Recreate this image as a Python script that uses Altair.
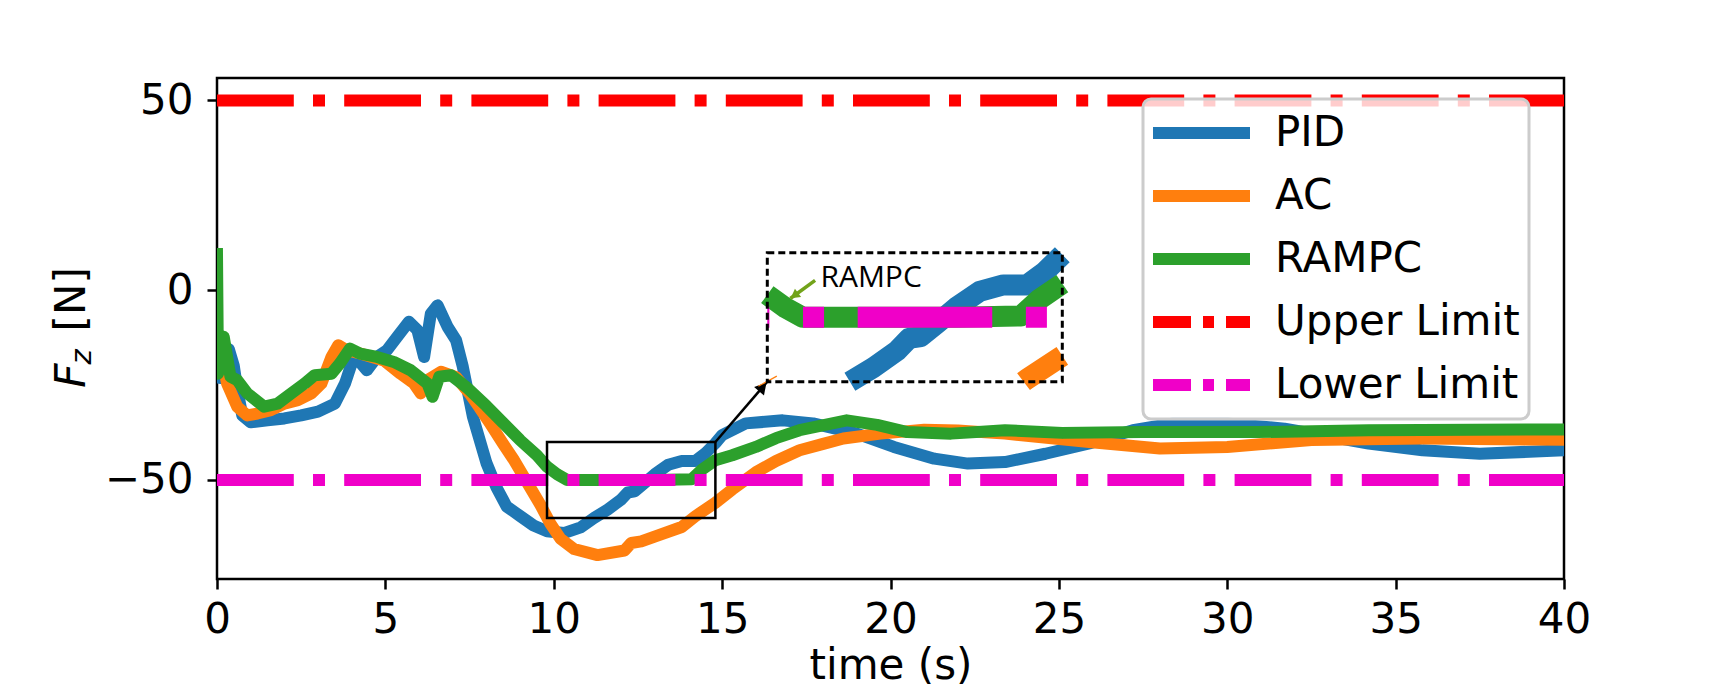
import math
import altair as alt
import pandas as pd

# ---------------- data ----------------
series_names = ["PID", "AC", "RAMPC", "Upper Limit", "Lower Limit"]
series_colors = ["#1f77b4", "#ff7f0e", "#2ca02c", "#ff0000", "#f000c8"]
legend_dashes = [[1, 0], [1, 0], [1, 0], [38, 12, 11, 12], [38, 12, 11, 12]]

pid_t = [0.0, 0.08, 0.2, 0.35, 0.5, 0.6, 0.75, 1.0, 1.5, 2.0, 2.5, 3.0, 3.5, 3.8, 4.0, 4.2,
         4.45, 4.75, 5.05, 5.35, 5.7, 5.95, 6.15, 6.35, 6.55, 6.85, 7.1, 7.3, 7.6, 8.0, 8.3,
         8.6, 9.0, 9.4, 9.8, 10.3, 10.8, 11.2, 11.6, 12.0, 12.2, 12.4, 12.7, 13.0, 13.4, 13.8,
         14.2, 14.5, 14.8, 15.0, 15.7, 16.8, 17.7, 19.0, 20.1, 21.3, 22.3, 23.4, 24.6, 25.9,
         27.2, 28.4, 30.0, 31.7, 34.2, 35.8, 37.5, 40.0]
pid_f = [-23, -18, -15, -15.5, -20, -26, -33, -34.8, -34.3, -33.8, -33, -32, -29.9, -24.6,
         -19.3, -18.5, -21.1, -17.6, -15.8, -12.3, -8.3, -10.5, -17.6, -6.2, -4, -9.7, -13.2,
         -20.2, -33.4, -45.5, -52, -57, -59.5, -62, -63.5, -64, -62.5, -60, -57.8, -55.2,
         -53.3, -53.0, -50.8, -48.5, -46, -45, -45, -43, -40.3, -38.2, -35.1, -34.3, -35.1,
         -37.8, -41.3, -44.4, -45.7, -45.3, -43.1, -40.4, -36.9, -35.1, -35.1, -36.5, -40.4,
         -42.2, -43.1, -42.2]

ac_t = [0.0, 0.15, 0.3, 0.6, 0.9, 1.2, 1.6, 2.0, 2.4, 2.8, 3.1, 3.4, 3.6, 3.85, 4.25, 4.95,
        5.45, 5.85, 6.05, 6.25, 6.65, 7.1, 7.5, 7.8, 8.1, 8.5, 8.8, 9.2, 9.6, 9.9, 10.2, 10.6,
        11.3, 12.1, 12.3, 12.6, 13.1, 13.8, 14.2, 14.8, 15.3, 16.0, 16.6, 17.3, 18.0, 18.6,
        19.7, 21.0, 22.0, 23.4, 25.9, 28.0, 30.0, 32.5, 35.8, 40.0]
ac_f = [-14, -18, -24.6, -30.7, -33, -32.5, -31.6, -29.9, -29, -27.2, -24.6, -17.6, -14.5,
        -15.8, -16.7, -18.5, -22, -24.6, -27.2, -23.7, -21.5, -22.9, -27.2, -31, -35, -40.5,
        -44.5, -50.5, -56.5, -61.5, -65.5, -68.2, -69.8, -68.6, -66.6, -66.2, -64.6, -62.4,
        -59.6, -56, -52.5, -48, -45, -42.2, -40.5, -39.1, -37.8, -36.8, -37, -37.8, -40, -41.7,
        -41.3, -39.5, -39.1, -39.4]

rampc_t = [0.0, 0.03, 0.1, 0.2, 0.4, 0.6, 0.9, 1.4, 1.8, 2.2, 2.6, 2.9, 3.4, 3.65, 3.95, 4.25,
           4.75, 5.25, 5.75, 6.25, 6.4, 6.6, 6.95, 7.4, 8.0, 8.5, 9.0, 9.5, 9.8, 10.1, 10.4,
           11.0, 12.0, 13.0, 14.1, 14.4, 14.8, 15.3, 16.0, 16.6, 17.3, 18.7, 19.6, 20.5, 21.8,
           23.4, 25.1, 27.5, 30.9, 34.2, 40.0]
rampc_f = [9.5, -22, -14, -12.3, -22.8, -23.7, -27.2, -30.7, -29.9, -27.2, -24.6, -22.4, -22,
           -19.3, -15.4, -16.7, -17.6, -18.9, -21.1, -24.6, -28.1, -22.8, -22.4, -25.5, -30.5,
           -35, -39.5, -43.5, -46.5, -48.5, -50, -50, -50, -50, -49.8, -47.3, -44.8, -43.5,
           -41.3, -39, -36.9, -34.3, -35.5, -37.4, -37.8, -36.9, -37.6, -37.4, -37.4, -36.9,
           -36.7]

limit_t = [0, 40]
upper_f = 50
lower_f = -50

x_ticks = [0, 5, 10, 15, 20, 25, 30, 35, 40]
y_ticks = [-50, 0, 50]
x_domain = [0, 40]
y_domain = [-76.1, 55.9]

zoom_t = [9.8, 14.8]       # zoomed region (data units)
zoom_f = [-60, -40]
note_text = "RAMPC"
note_pos = [10.70, -45.3]           # text anchor inside inset (inset data units)
note_arrow = [10.61, -44.3, 10.19, -47.1]

# ---------------- layout / style ----------------
W, H = 1347, 501
FONT = "DejaVu Sans"
FS = 42
LW = 12
DASHDOT = [6.4 * LW, 1.6 * LW, 1.0 * LW, 1.6 * LW]
inset_px = [550.3, 845.3, 174.7, 303.7]   # left, right, top, bottom (pixels in plot)

main_ppu = W / (x_domain[1] - x_domain[0])
inset_ppu = (inset_px[1] - inset_px[0]) / (zoom_t[1] - zoom_t[0])
ratio = inset_ppu / main_ppu
ILW = LW * ratio
inset_dash = [d * ratio for d in DASHDOT]
inset_dash_offset = ((zoom_t[0] - limit_t[0]) * inset_ppu) % sum(inset_dash)


def long_df(name, ts, fs):
    return pd.DataFrame({"series": name, "t": ts, "f": fs, "o": range(len(ts))})


def clip_poly(ts, fs, x0, x1, y0, y1):
    pieces, cur = [], []
    for i in range(len(ts) - 1):
        ax, ay, bx, by = ts[i], fs[i], ts[i + 1], fs[i + 1]
        dx, dy = bx - ax, by - ay
        u0, u1, ok = 0.0, 1.0, True
        for p, q in ((-dx, ax - x0), (dx, x1 - ax), (-dy, ay - y0), (dy, y1 - ay)):
            if p == 0:
                if q < 0:
                    ok = False
                    break
            else:
                r = q / p
                if p < 0:
                    if r > u1:
                        ok = False
                        break
                    u0 = max(u0, r)
                else:
                    if r < u0:
                        ok = False
                        break
                    u1 = min(u1, r)
        if not ok:
            if cur:
                pieces.append(cur)
                cur = []
            continue
        p0 = (ax + u0 * dx, ay + u0 * dy)
        p1 = (ax + u1 * dx, ay + u1 * dy)
        if not cur or u0 > 0:
            if cur:
                pieces.append(cur)
            cur = [p0, p1]
        else:
            cur.append(p1)
        if u1 < 1:
            pieces.append(cur)
            cur = []
    if cur:
        pieces.append(cur)
    return pieces


def clipped_df(name, ts, fs):
    rows = []
    for k, piece in enumerate(clip_poly(ts, fs, zoom_t[0], zoom_t[1], zoom_f[0], zoom_f[1])):
        for j, (a, b) in enumerate(piece):
            rows.append({"series": name, "seg": k, "t": a, "f": b, "o": j})
    return pd.DataFrame(rows)


color_scale = alt.Scale(domain=series_names, range=series_colors)
dash_scale = alt.Scale(domain=series_names, range=legend_dashes)
legend = alt.Legend(
    title=None, orient="none", legendX=926, legendY=21,
    symbolType="stroke", symbolSize=97 * 97, symbolStrokeWidth=LW, symbolOpacity=1,
    symbolOffset=-5, clipHeight=50,
    labelFont=FONT, labelFontSize=FS, labelColor="black", labelLimit=500,
    labelOffset=19, rowPadding=13, padding=9,
    fillColor="rgba(255,255,255,0.8)", strokeColor="#cccccc", cornerRadius=8,
)

X = alt.X("t:Q", scale=alt.Scale(domain=x_domain, nice=False, zero=False),
          axis=alt.Axis(values=x_ticks, title="time (s)", titlePadding=5, labelPadding=10,
                        labelFlush=False))
Y = alt.Y("f:Q", scale=alt.Scale(domain=y_domain, nice=False, zero=False),
          axis=alt.Axis(values=y_ticks, title=None, labelPadding=14))
C = alt.Color("series:N", scale=color_scale, legend=legend)
D = alt.StrokeDash("series:N", scale=dash_scale, legend=legend)

layers = []
for name, ts, fs in (("PID", pid_t, pid_f), ("AC", ac_t, ac_f), ("RAMPC", rampc_t, rampc_f)):
    layers.append(alt.Chart(long_df(name, ts, fs)).mark_line(
        strokeWidth=LW, strokeJoin="round", strokeCap="square", clip=True
    ).encode(x=X, y=Y, color=C, order="o:Q"))

for name, val in (("Upper Limit", upper_f), ("Lower Limit", lower_f)):
    layers.append(alt.Chart(long_df(name, limit_t, [val, val])).mark_line(
        strokeWidth=LW, strokeDash=DASHDOT, strokeCap="butt", clip=True
    ).encode(x=X, y=Y, color=C, order="o:Q"))

# invisible layer carrying the legend's dash patterns
all_df = pd.concat([long_df("PID", pid_t, pid_f), long_df("AC", ac_t, ac_f),
                    long_df("RAMPC", rampc_t, rampc_f),
                    long_df("Upper Limit", limit_t, [upper_f, upper_f]),
                    long_df("Lower Limit", limit_t, [lower_f, lower_f])])
layers.append(alt.Chart(all_df).mark_line(opacity=0, strokeWidth=LW, clip=True).encode(
    x=X, y=Y, color=C, strokeDash=D, order="o:Q"))

# zoom rectangle
rect_df = pd.DataFrame({"t": [zoom_t[0]], "t2": [zoom_t[1]], "f": [zoom_f[0]], "f2": [zoom_f[1]]})
layers.append(alt.Chart(rect_df).mark_rect(fillOpacity=0, stroke="black", strokeWidth=2.5).encode(
    x=X, x2="t2:Q", y=Y, y2="f2:Q"))

# arrow from zoom rectangle to inset corner (end point expressed in main data units)
end_t = x_domain[0] + inset_px[0] / W * (x_domain[1] - x_domain[0])
end_f = y_domain[1] - inset_px[3] / H * (y_domain[1] - y_domain[0])
arr_df = pd.DataFrame({"t": [zoom_t[1]], "f": [zoom_f[1]], "t2": [end_t], "f2": [end_f]})
layers.append(alt.Chart(arr_df).mark_rule(stroke="black", strokeWidth=2.5).encode(
    x=X, y=Y, x2="t2:Q", y2="f2:Q"))
dxp = (end_t - zoom_t[1]) * main_ppu
dyp = -(end_f - zoom_f[1]) / (y_domain[1] - y_domain[0]) * H
ang = math.degrees(math.atan2(dxp, -dyp)) % 360
L = math.hypot(dxp, dyp)
back = 7
head_df = pd.DataFrame({"t": [end_t], "f": [end_f]})
layers.append(alt.Chart(head_df).mark_point(
    shape="triangle-up", filled=True, color="black", size=170, opacity=1, angle=ang,
    xOffset=-back * dxp / L, yOffset=-back * dyp / L
).encode(x=X, y=Y))

# y-axis title: F_z [N]
one = pd.DataFrame({"a": [0]})
layers.append(alt.Chart(one).mark_text(text="F", font=FONT, fontSize=FS, fontStyle="italic",
    angle=270, align="left", baseline="alphabetic", color="black").encode(
    x=alt.value(-131.7), y=alt.value(309.7)))
layers.append(alt.Chart(one).mark_text(text="z", font=FONT, fontSize=29, fontStyle="italic",
    angle=270, align="left", baseline="alphabetic", color="black").encode(
    x=alt.value(-126.2), y=alt.value(286.5)))
layers.append(alt.Chart(one).mark_text(text="[N]", font=FONT, fontSize=FS,
    angle=270, align="left", baseline="alphabetic", color="black").encode(
    x=alt.value(-131.7), y=alt.value(253.4)))

main = alt.layer(*layers)

# ---------------- inset ----------------
IX = alt.X("t:Q", scale=alt.Scale(domain=zoom_t, range=[inset_px[0], inset_px[1]], nice=False, zero=False), axis=None)
IY = alt.Y("f:Q", scale=alt.Scale(domain=zoom_f, range=[inset_px[3], inset_px[2]], nice=False, zero=False), axis=None)

ilayers = []
for name, ts, fs, col in (("PID", pid_t, pid_f, series_colors[0]),
                          ("AC", ac_t, ac_f, series_colors[1]),
                          ("RAMPC", rampc_t, rampc_f, series_colors[2])):
    d = clipped_df(name, ts, fs)
    if len(d):
        ilayers.append(alt.Chart(d).mark_line(
            strokeWidth=ILW, strokeJoin="round", strokeCap="butt", color=col
        ).encode(x=IX, y=IY, detail="seg:N", order="o:Q"))

ilow = pd.DataFrame({"t": zoom_t, "f": [lower_f, lower_f], "o": [0, 1]})
ilayers.append(alt.Chart(ilow).mark_line(
    strokeWidth=ILW, strokeDash=inset_dash, strokeDashOffset=inset_dash_offset,
    strokeCap="butt", color=series_colors[4]).encode(x=IX, y=IY, order="o:Q"))

ilayers.append(alt.Chart(rect_df).mark_rect(fillOpacity=0, stroke="black", strokeWidth=3,
    strokeDash=[7, 4]).encode(x=IX, x2="t2:Q", y=IY, y2="f2:Q"))

note_df = pd.DataFrame({"t": [note_pos[0]], "f": [note_pos[1]]})
ilayers.append(alt.Chart(note_df).mark_text(text=note_text, font="Open Sans", fontSize=30,
    align="left", baseline="alphabetic", color="black").encode(x=IX, y=IY))

na_df = pd.DataFrame({"t": [note_arrow[0]], "f": [note_arrow[1]],
                      "t2": [note_arrow[2]], "f2": [note_arrow[3]]})
ilayers.append(alt.Chart(na_df).mark_rule(stroke="#72a31a", strokeWidth=3.5).encode(
    x=IX, y=IY, x2="t2:Q", y2="f2:Q"))
ipx = inset_ppu
ipy = (inset_px[3] - inset_px[2]) / (zoom_f[1] - zoom_f[0])
ndx = (note_arrow[2] - note_arrow[0]) * ipx
ndy = -(note_arrow[3] - note_arrow[1]) * ipy
nang = math.degrees(math.atan2(ndx, -ndy)) % 360
nL = math.hypot(ndx, ndy)
nh_df = pd.DataFrame({"t": [note_arrow[2]], "f": [note_arrow[3]]})
ilayers.append(alt.Chart(nh_df).mark_point(
    shape="triangle-up", filled=True, color="#72a31a", size=110, opacity=1, angle=nang,
    xOffset=-5 * ndx / nL, yOffset=-5 * ndy / nL).encode(x=IX, y=IY))

inset = alt.layer(*ilayers)

chart = alt.layer(main, inset).resolve_scale(x="independent", y="independent").properties(
    width=W, height=H,
    autosize=alt.AutoSizeParams(type="none"),
    padding={"left": 209, "top": 70, "right": 163, "bottom": 112},
    background="white",
).configure_view(stroke="black", strokeWidth=2.5).configure_axis(
    labelFont=FONT, labelFontSize=FS, labelColor="black",
    titleFont=FONT, titleFontSize=FS, titleFontWeight="normal", titleColor="black",
    tickColor="black", tickWidth=2.5, tickSize=10, domain=False, grid=False,
).configure_legend(strokeWidth=3)

chart.save("out.html", embed_options={"renderer": "svg", "actions": False})
